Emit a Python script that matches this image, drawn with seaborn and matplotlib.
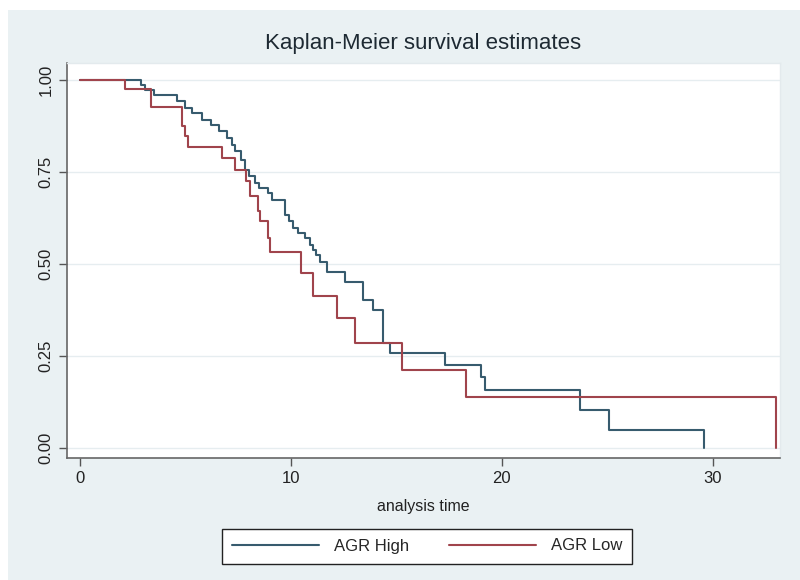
import numpy as np
import pandas as pd
import matplotlib
matplotlib.use("Agg")
import matplotlib.pyplot as plt
import seaborn as sns
from matplotlib.patches import Rectangle

# step points of the two Kaplan-Meier curves (time, survival after the drop)
high_times = [0, 2.9, 3.1, 3.5, 4.6, 5.0, 5.3, 5.8, 6.2, 6.6, 6.95, 7.2, 7.35,
              7.65, 7.8, 8.0, 8.3, 8.5, 8.9, 9.1, 9.7, 9.9, 10.1, 10.35, 10.65,
              10.9, 11.05, 11.2, 11.4, 11.7, 12.55, 13.4, 13.9, 14.35, 14.7,
              17.3, 19.0, 19.2, 23.7, 25.1, 29.6]
high_surv = [1.0, 0.986, 0.973, 0.959, 0.941, 0.923, 0.909, 0.891, 0.878, 0.860,
             0.841, 0.823, 0.805, 0.783, 0.755, 0.737, 0.719, 0.706, 0.692, 0.674,
             0.633, 0.615, 0.597, 0.583, 0.570, 0.552, 0.538, 0.524, 0.506, 0.479,
             0.452, 0.402, 0.375, 0.284, 0.257, 0.226, 0.194, 0.158, 0.103, 0.049,
             0.0]

low_times = [0, 2.15, 3.35, 4.85, 5.0, 5.1, 6.75, 7.35, 7.85, 8.05, 8.45, 8.55,
             8.93, 9.0, 10.5, 11.06, 12.2, 13.05, 15.25, 18.3, 33.0]
low_surv = [1.0, 0.975, 0.925, 0.873, 0.846, 0.817, 0.787, 0.755, 0.724, 0.683,
            0.642, 0.615, 0.570, 0.533, 0.475, 0.413, 0.352, 0.284, 0.211, 0.138,
            0.0]

groups = ["AGR High", "AGR Low"]
x_ticks = [0, 10, 20, 30]
y_ticks = [0.0, 0.25, 0.5, 0.75, 1.0]

df = pd.concat([
    pd.DataFrame({"time": high_times, "surv": high_surv, "group": groups[0]}),
    pd.DataFrame({"time": low_times, "surv": low_surv, "group": groups[1]}),
], ignore_index=True)

sns.set_style("white")
plt.rcParams["font.family"] = ["Liberation Sans", "DejaVu Sans"]

fig = plt.figure(figsize=(8, 5.8), dpi=100, facecolor="white")
# light graph region behind the plot
fig.add_artist(Rectangle((8 / 800, 0), 1 - 8 / 800, 1 - 10 / 580,
                         transform=fig.transFigure, facecolor="#eaf1f3",
                         edgecolor="none", zorder=-10))

ax = fig.add_axes([67 / 800, 1 - 458 / 580, (780 - 67) / 800, (458 - 63) / 580])
ax.set_facecolor("white")
ax.set_zorder(1)

palette = {"AGR High": "#375b6e", "AGR Low": "#a0444c"}
sns.lineplot(data=df, x="time", y="surv", hue="group", palette=palette,
             estimator=None, sort=False, drawstyle="steps-post",
             linewidth=1.5, ax=ax, legend=False)

ax.set_xlim(-0.62, 33.2)
ax.set_ylim(-0.027, 1.045)
ax.set_xticks(x_ticks)
ax.set_yticks(y_ticks)
ax.set_yticklabels([f"{v:.2f}" for v in y_ticks], rotation=90, va="center")
ax.tick_params(axis="both", which="both", length=6, width=1, color="#555555",
               labelsize=12, labelcolor="#222222", direction="out",
               left=True, bottom=True)
for y in y_ticks:
    ax.axhline(y, color="#e6edf0", lw=1, zorder=0)

for side in ["top", "right"]:
    ax.spines[side].set_color("#e3eaed")
    ax.spines[side].set_linewidth(1)
for side in ["left", "bottom"]:
    ax.spines[side].set_color("#666666")
    ax.spines[side].set_linewidth(1.2)

ax.set_xlabel("analysis time", fontsize=11.5, color="#222222", labelpad=9)
ax.set_ylabel("")
ax.set_title("Kaplan-Meier survival estimates", fontsize=16, color="#1e2a33",
             pad=10)

handles = [plt.Line2D([], [], color=palette[g], lw=1.5) for g in groups]
leg = fig.legend(handles, groups, loc="center", bbox_to_anchor=(427 / 800, 1 - 546 / 580),
                 ncol=2, frameon=True, fancybox=False, fontsize=12,
                 handlelength=5.2, columnspacing=2.4, handletextpad=0.9,
                 borderpad=0.6, framealpha=1)
leg.get_frame().set_edgecolor("#222222")
leg.get_frame().set_linewidth(1)
leg.get_frame().set_facecolor("white")

fig.savefig("out.png", dpi=100, facecolor=fig.get_facecolor())
